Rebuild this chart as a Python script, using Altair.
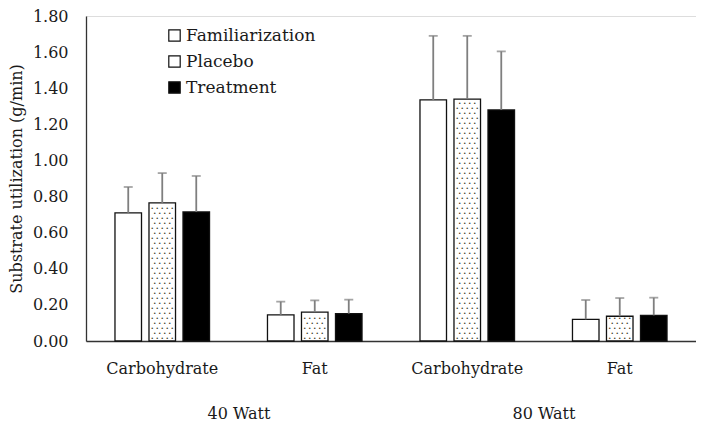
import altair as alt
import pandas as pd

# ---- data ----
watts = ["40 Watt", "40 Watt", "80 Watt", "80 Watt"]
substrates = ["Carbohydrate", "Fat", "Carbohydrate", "Fat"]
series = ["Familiarization", "Placebo", "Treatment"]

fam_mean = [0.71, 0.145, 1.335, 0.12]
plac_mean = [0.765, 0.16, 1.34, 0.137]
treat_mean = [0.715, 0.152, 1.28, 0.142]

fam_sd = [0.143, 0.073, 0.355, 0.107]
plac_sd = [0.165, 0.065, 0.35, 0.101]
treat_sd = [0.199, 0.077, 0.324, 0.098]

y_ticks = [0.0, 0.2, 0.4, 0.6, 0.8, 1.0, 1.2, 1.4, 1.6, 1.8]

rows = []
for s, means, sds in [("Familiarization", fam_mean, fam_sd),
                      ("Placebo", plac_mean, plac_sd),
                      ("Treatment", treat_mean, treat_sd)]:
    for w, sub, m, sd in zip(watts, substrates, means, sds):
        rows.append({"watt": w, "substrate": sub, "key": f"{w}|{sub}",
                     "series": s, "value": m, "upper": m + sd})
df = pd.DataFrame(rows)

FONT = "DejaVu Serif"
TXT = "#1a1a1a"

xkey = alt.X("key:N", title=None, sort=None,
             scale=alt.Scale(paddingInner=0.38, paddingOuter=0.19),
             axis=alt.Axis(labelExpr="split(datum.label, '|')[1]", labelAngle=0,
                           ticks=False, domain=True, domainColor="#333333",
                           domainWidth=1.3, labelPadding=19, labelFont=FONT,
                           labelFontSize=16, labelColor=TXT))
xoff = alt.XOffset("series:N", sort=series,
                   scale=alt.Scale(domain=series, paddingInner=0.22, paddingOuter=0))

yaxis = alt.Axis(values=y_ticks, format=".2f", grid=False, ticks=False,
                 labelOverlap=False,
                 domainColor="#333333", domainWidth=1.3, labelPadding=18,
                 labelFont=FONT, labelFontSize=16, labelColor=TXT,
                 titleFont=FONT, titleFontSize=16, titleFontWeight="normal",
                 titleColor=TXT, titlePadding=8)

bars = alt.Chart(df).mark_bar(stroke="#111111", strokeWidth=1.3).encode(
    x=xkey,
    xOffset=xoff,
    y=alt.Y("value:Q", title="Substrate utilization (g/min)",
            scale=alt.Scale(domain=[0, 1.8], nice=False), axis=yaxis),
    fill=alt.Fill("series:N", sort=series,
                  scale=alt.Scale(domain=series, range=["white", "white", "black"]),
                  legend=alt.Legend(title=None, orient="none", legendX=80, legendY=11,
                                    symbolType="square", symbolSize=130,
                                    symbolStrokeColor="#111111", symbolStrokeWidth=1.2,
                                    labelFont=FONT, labelFontSize=17, labelColor=TXT,
                                    labelOffset=3, rowPadding=8)),
)

err = alt.Chart(df).mark_rule(color="#7f7f7f", strokeWidth=1.8).encode(
    x=alt.X("key:N", sort=None), xOffset=xoff,
    y=alt.Y("value:Q", axis=yaxis, title="Substrate utilization (g/min)"),
    y2="upper:Q")
caps = alt.Chart(df).mark_tick(color="#7f7f7f", thickness=1.8, size=9,
                               orient="horizontal").encode(
    x=alt.X("key:N", sort=None), xOffset=xoff,
    y=alt.Y("upper:Q", axis=yaxis, title="Substrate utilization (g/min)"))

# dotted texture for the Placebo bars
dot_layers = []
for start, dxs in [(0.014, [-10, -5, 0, 5, 10]), (0.042, [-7.5, -2.5, 2.5, 7.5])]:
    for dx in dxs:
        dl = alt.Chart(df).transform_filter(
            "datum.series == 'Placebo'"
        ).transform_calculate(
            dots=f"sequence({start}, datum.value - 0.008, 0.0555)"
        ).transform_flatten(["dots"]).mark_text(
            text="•", fontSize=5.5, color="#3d3d28", dx=dx, baseline="middle"
        ).encode(x=alt.X("key:N", sort=None), xOffset=xoff,
                 y=alt.Y("dots:Q", axis=yaxis, title="Substrate utilization (g/min)"))
        dot_layers.append(dl)

main = alt.layer(bars, *dot_layers, err, caps)

watt_df = pd.DataFrame({"watt": ["40 Watt", "80 Watt"]})
watt_layer = alt.Chart(watt_df).mark_text(opacity=0, text=" ").encode(
    x=alt.X("watt:N", title=None,
            axis=alt.Axis(orient="bottom", offset=45, domain=False, ticks=False,
                          labelAngle=0, labelPadding=19, labelFont=FONT,
                          labelFontSize=16, labelColor=TXT)))

chart = alt.layer(main, watt_layer).resolve_scale(x="independent").resolve_axis(
    x="independent"
).properties(width=610, height=325, padding={"left": 0, "top": 0, "right": 0, "bottom": 0}
).configure_view(stroke=None).configure_axisY(labelOverlap=False).configure(
    background="white")

chart.save("out.html", embed_options={"renderer": "svg", "actions": False})
